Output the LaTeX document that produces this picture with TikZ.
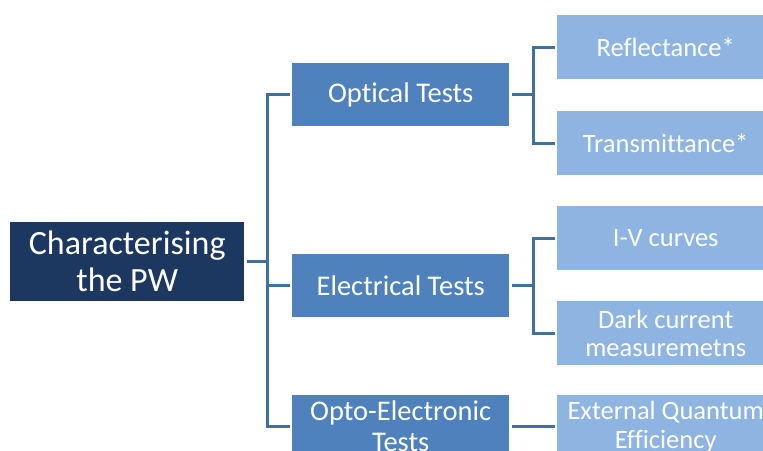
\documentclass[tikz,border=0pt]{standalone}
\usepackage{fontspec}
\setmainfont[Ligatures={NoCommon}]{Carlito}
\definecolor{rootc}{HTML}{1C3860}
\definecolor{midc}{HTML}{4F81BD}
\definecolor{leafc}{HTML}{8EB4E2}
\definecolor{linec}{HTML}{41709F}
\begin{document}
\begin{tikzpicture}[x=1pt,y=-1pt,
  box/.style={rectangle, inner sep=0pt, text=white, align=center, anchor=north west},
  rootbox/.style={box, fill=rootc, minimum width=234pt, minimum height=79pt, font=\fontsize{34}{37}\selectfont},
  midbox/.style={box, fill=midc, minimum width=217pt, minimum height=63pt, font=\fontsize{28.5}{31}\selectfont},
  leafbox/.style={box, fill=leafc, minimum width=217pt, minimum height=64pt, font=\fontsize{26.5}{28.5}\selectfont},
  conn/.style={draw=linec, line width=3pt, shorten <=3pt, shorten >=2pt}
]
\useasboundingbox (0,0) rectangle (763,450);
\clip (0,0) rectangle (763,450);
\node[rootbox] (root) at (10,222) {Characterising\\the PW};
\node[midbox] (opt) at (292,63) {Optical Tests};
\node[midbox] (ele) at (292,254) {Electrical Tests};
\node[midbox] (oe) at (292,395) {Opto-Electronic\\Tests};
\node[leafbox] (refl) at (557,15) {Reflectance*};
\node[leafbox] (trans) at (557,111) {Transmittance*};
\node[leafbox] (iv) at (557,206) {I-V curves};
\node[leafbox] (dark) at (557,301) {Dark current\\measuremetns};
\node[leafbox, minimum height=63pt] (eqe) at (557,395) {External Quantum\\Efficiency};
\coordinate (trunk) at (267,0);
\coordinate (j1) at (533,0);
\draw[conn] (root.east) -- (root.east -| trunk) |- (opt.west);
\draw[conn] (root.east) -- (root.east -| trunk) |- (ele.west);
\draw[conn] (root.east) -- (root.east -| trunk) |- (oe.west);
\draw[conn] (opt.east) -- (opt.east -| j1) |- (refl.west);
\draw[conn] (opt.east) -- (opt.east -| j1) |- (trans.west);
\draw[conn] (ele.east) -- (ele.east -| j1) |- (iv.west);
\draw[conn] (ele.east) -- (ele.east -| j1) |- (dark.west);
\draw[conn] (oe.east) -- (eqe.west);
\end{tikzpicture}
\end{document}
